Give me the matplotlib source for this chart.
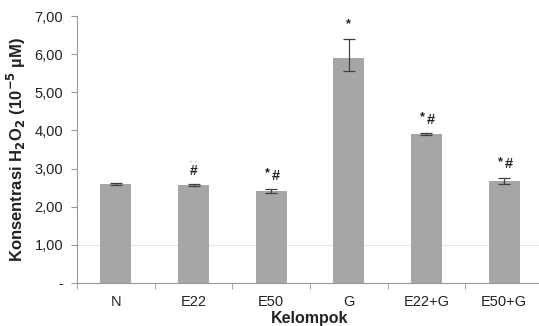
import matplotlib
matplotlib.use("Agg")
import matplotlib.pyplot as plt
from matplotlib.ticker import FixedLocator

kelompok = ["N", "E22", "E50", "G", "E22+G", "E50+G"]
nilai = [2.60, 2.57, 2.42, 5.90, 3.91, 2.68]
galat_atas = [0.02, 0.02, 0.05, 0.50, 0.02, 0.08]
galat_bawah = [0.02, 0.02, 0.05, 0.33, 0.02, 0.08]
bintang = [False, False, True, True, True, True]
pagar = [False, True, True, False, True, True]
y_ticks = [0, 1, 2, 3, 4, 5, 6, 7]
y_labels = ["-", "1,00", "2,00", "3,00", "4,00", "5,00", "6,00", "7,00"]

plt.rcParams["font.family"] = ["Liberation Sans", "DejaVu Sans"]

fig = plt.figure(figsize=(5.39, 3.26), dpi=100)
ax = fig.add_axes([77 / 539, 43 / 326, 466 / 539, 267 / 326])

x = range(len(kelompok))
ax.bar(x, nilai, width=0.4, color="#a6a6a6", zorder=2)
ax.errorbar(x, nilai, yerr=[galat_bawah, galat_atas], fmt="none", ecolor="#404040",
            elinewidth=0.9, capsize=4, capthick=0.9, zorder=3)

# tanda signifikansi
for i, v in enumerate(nilai):
    top = v + galat_atas[i]
    if bintang[i] and pagar[i]:
        ax.annotate("*", (i, top), xytext=(-3, 7), textcoords="offset points",
                    ha="center", va="bottom", fontsize=9, fontweight="bold", color="#222222")
        ax.annotate("#", (i, top), xytext=(3, 4.5), textcoords="offset points",
                    ha="center", va="bottom", fontsize=10.5, fontweight="bold", color="#222222")
    elif bintang[i]:
        ax.annotate("*", (i, top), xytext=(0, 6), textcoords="offset points",
                    ha="center", va="bottom", fontsize=9, fontweight="bold", color="#222222")
    elif pagar[i]:
        ax.annotate("#", (i, top), xytext=(0, 4.5), textcoords="offset points",
                    ha="center", va="bottom", fontsize=10, fontweight="bold", color="#222222")
        ax.annotate("- -", (i, top), xytext=(0, 14), textcoords="offset points",
                    ha="center", va="bottom", fontsize=5, color="#888888")

ax.axhline(1.0, color="#e6e6e6", lw=0.8, zorder=1)

ax.set_xlim(-0.5, 5.5)
ax.set_ylim(0, 7)
ax.set_xticks(list(x))
ax.set_xticklabels(kelompok)
ax.xaxis.set_minor_locator(FixedLocator([i - 0.5 for i in range(7)]))
ax.tick_params(axis="x", which="major", length=0, pad=9, labelsize=10.5, colors="#222222")
ax.tick_params(axis="x", which="minor", length=4, color="#999999")
ax.set_yticks(y_ticks)
ax.set_yticklabels(y_labels)
ax.tick_params(axis="y", length=4, color="#999999", labelsize=10.5, labelcolor="#222222", pad=6)

for s in ["top", "right"]:
    ax.spines[s].set_visible(False)
for s in ["left", "bottom"]:
    ax.spines[s].set_color("#999999")
    ax.spines[s].set_linewidth(0.8)

ax.set_xlabel("Kelompok", fontsize=11.5, fontweight="bold", color="#222222", labelpad=1)
ax.set_ylabel("Konsentrasi H$_\\mathbf{2}$O$_\\mathbf{2}$ (10$^\\mathbf{-5}$ µM)",
              fontsize=12, fontweight="bold", color="#222222", labelpad=5)

fig.savefig("out.png", dpi=100)
